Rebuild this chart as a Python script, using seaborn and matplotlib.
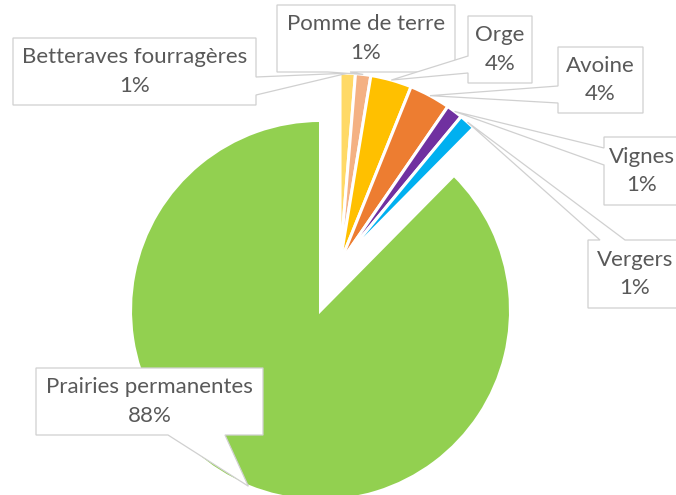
import numpy as np
import matplotlib
matplotlib.use("Agg")
import matplotlib.pyplot as plt
import seaborn as sns
from matplotlib.patches import Polygon

# data
cultures = ["Betteraves fourragères", "Pomme de terre", "Orge", "Avoine",
            "Vignes", "Vergers", "Prairies permanentes"]
parts = [1.3, 1.3, 3.5, 3.5, 1.4, 1.4, 87.6]
pct_labels = ["1%", "1%", "4%", "4%", "1%", "1%", "88%"]
couleurs = ["#FFD966", "#F4B183", "#FFC000", "#ED7D31", "#7030A0", "#00B0F0", "#92D050"]
eclate = [0, 0, 0, 0, 0, 0, 0.27]

sns.set_theme(style="white")
plt.rcParams["font.family"] = ["Lato", "DejaVu Sans"]

W, H = 676, 495
CX, CY, R = 340, 263, 190   # pie centre / radius in pixels


def pt(x, y):
    # pixel position -> data units (radius = 1)
    return ((x - CX) / R, (CY - y) / R)


fig = plt.figure(figsize=(W / 100, H / 100), dpi=100)
ax = fig.add_axes([0, 0, 1, 1])

wedges, _ = ax.pie(parts, colors=couleurs, startangle=90, counterclock=False,
                   explode=eclate, radius=1,
                   wedgeprops=dict(edgecolor="white", linewidth=2.2))

x0, y0 = pt(0, 0)
x1, y1 = pt(W, H)
ax.set_xlim(x0, x1)
ax.set_ylim(y1, y0)
ax.set_aspect("auto")
ax.axis("off")

# callout boxes (pixels): box, side of pointer, pointer base, text centre x
callouts = [
    ((13, 38, 256, 105), "right", (77, 95), None),
    ((277, 5, 455, 72), "bottom", (328, 350), None),
    ((468, 16, 532, 83), "left", (56, 73), None),
    ((558, 47, 643, 113), "left", (86, 103), None),
    ((604, 137, 690, 205), "left", (148, 165), 642),
    ((588, 240, 682, 308), "top", (600, 625), None),
    ((36, 368, 263, 435), "bottom", (168, 225), None),
]

for w, nom, pct, (box, side, base, tcx) in zip(wedges, cultures, pct_labels, callouts):
    mid = np.deg2rad((w.theta1 + w.theta2) / 2)
    tip = (w.center[0] + w.r * np.cos(mid), w.center[1] + w.r * np.sin(mid))
    bx0, by0, bx1, by1 = box
    a, b = base
    tl, tr, br, bl = pt(bx0, by0), pt(bx1, by0), pt(bx1, by1), pt(bx0, by1)
    if side == "right":
        verts = [tl, tr, pt(bx1, a), tip, pt(bx1, b), br, bl]
    elif side == "bottom":
        verts = [tl, tr, br, pt(b, by1), tip, pt(a, by1), bl]
    elif side == "left":
        verts = [tl, tr, br, bl, pt(bx0, b), tip, pt(bx0, a)]
    else:
        verts = [tl, pt(a, by0), tip, pt(b, by0), tr, br, bl]
    ax.add_patch(Polygon(verts, closed=True, facecolor="white",
                         edgecolor="#D0D0D0", linewidth=0.9, zorder=5))
    if tcx is None:
        tcx = (bx0 + bx1) / 2
    tx, ty = pt(tcx, (by0 + by1) / 2)
    ax.text(tx, ty, f"{nom}\n{pct}", ha="center", va="center", fontsize=16,
            color="#595959", linespacing=1.55, zorder=6)

fig.savefig("out.png", dpi=100)
